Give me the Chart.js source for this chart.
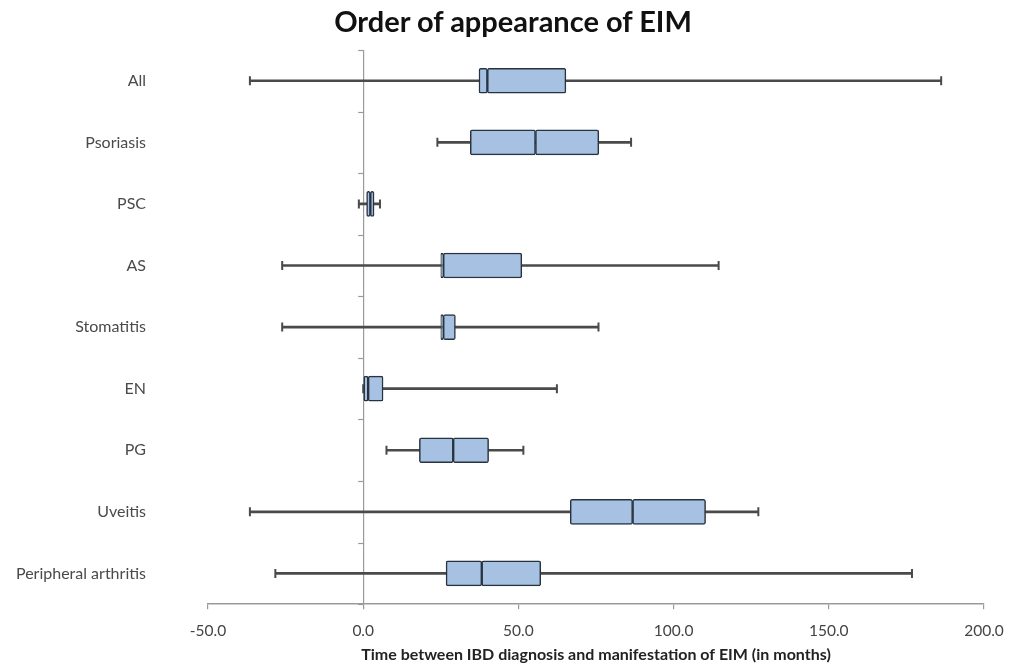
<!DOCTYPE html>
<html>
<head>
<meta charset="utf-8">
<script src="https://cdn.jsdelivr.net/npm/chart.js@4"></script>
<style>
  html, body { margin: 0; padding: 0; background: #fff; }
  #wrap { width: 1010px; height: 666px; position: relative; }
  #title {
    position: absolute; left: 513px; top: 4px; transform: translateX(-50%);
    font-family: Lato, "Open Sans", sans-serif; font-weight: bold; font-size: 29px;
    line-height: 34px; color: #111; white-space: nowrap; z-index: 2;
  }
</style>
</head>
<body>
<div id="wrap">
  <div id="title">Order of appearance of EIM</div>
  <canvas id="c"></canvas>
</div>
<script>
const categories = ['All', 'Psoriasis', 'PSC', 'AS', 'Stomatitis', 'EN', 'PG', 'Uveitis', 'Peripheral arthritis'];
const whiskerMin = [-36.5, 23.9, -1.4, -26.1, -26.1, 0.0, 7.5, -36.5, -28.3];
const q1         = [37.3, 34.5, 1.1, 25.0, 25.0, 0.0, 18.1, 66.7, 26.7];
const median     = [40.0, 55.5, 2.3, 25.8, 25.8, 1.6, 29.0, 86.8, 38.2];
const q3         = [65.3, 75.9, 3.5, 51.1, 29.7, 6.4, 40.4, 110.3, 57.2];
const whiskerMax = [186.2, 86.3, 5.4, 114.5, 75.8, 62.4, 51.6, 127.3, 176.8];
const xTicks     = [-50, 0, 50, 100, 150, 200];

const FONT = 'Lato, "Open Sans", sans-serif';
const BOX_FILL = '#a7c1e3';
const BOX_EDGE = '#27333f';
const WHISKER = '#4a4a4a';

const zeroTicks = {
  id: 'zeroTicks',
  afterDatasetsDraw(chart) {
    const xs = chart.scales.x, ys = chart.scales.y;
    const x0 = xs.getPixelForValue(0);
    const ctx = chart.ctx;
    ctx.save();
    ctx.strokeStyle = '#9a9a9a';
    ctx.lineWidth = 1.2;
    for (let i = 0; i <= categories.length; i++) {
      const y = Math.round(ys.getPixelForValue(i - 0.5)) + 0.5;
      ctx.beginPath();
      ctx.moveTo(x0 - 5, y);
      ctx.lineTo(x0, y);
      ctx.stroke();
    }
    ctx.restore();
  }
};

new Chart(document.getElementById('c'), {
  type: 'bar',
  data: {
    labels: categories,
    datasets: [
      {
        label: 'box upper',
        data: categories.map((c, i) => [median[i], q3[i]]),
        backgroundColor: BOX_FILL,
        borderColor: BOX_EDGE,
        borderWidth: 1.5,
        borderSkipped: false,
        borderRadius: 2,
        barThickness: 25,
        grouped: false,
        order: 0
      },
      {
        label: 'box lower',
        data: categories.map((c, i) => [q1[i], median[i]]),
        backgroundColor: BOX_FILL,
        borderColor: BOX_EDGE,
        borderWidth: 1.5,
        borderSkipped: false,
        borderRadius: 2,
        barThickness: 25,
        grouped: false,
        order: 1
      },
      {
        type: 'line',
        label: 'caps',
        data: categories.flatMap((c, i) => [{x: whiskerMin[i], y: c}, {x: whiskerMax[i], y: c}]),
        showLine: false,
        pointStyle: 'line',
        rotation: 90,
        pointRadius: 4.5,
        pointHoverRadius: 4.5,
        borderColor: WHISKER,
        pointBorderWidth: 2,
        backgroundColor: WHISKER,
        order: 2
      },
      {
        label: 'whisker',
        data: categories.map((c, i) => [whiskerMin[i], whiskerMax[i]]),
        backgroundColor: WHISKER,
        borderWidth: 0,
        barThickness: 2,
        grouped: false,
        order: 3
      }
    ]
  },
  options: {
    indexAxis: 'y',
    responsive: true,
    maintainAspectRatio: false,
    animation: false,
    layout: { autoPadding: false, padding: { left: 0, right: 26, top: 50, bottom: 0 } },
    plugins: {
      legend: { display: false },
      tooltip: { enabled: false },
      title: { display: false }
    },
    scales: {
      x: {
        type: 'linear',
        min: -50,
        max: 200,
        afterBuildTicks(scale) { scale.ticks = xTicks.map(v => ({ value: v })); },
        afterFit(scale) { scale.paddingLeft = 0; scale.paddingRight = 0; },
        ticks: {
          color: '#444',
          font: { family: FONT, size: 15.5 },
          padding: 12.5,
          callback: v => Number(v).toFixed(1)
        },
        grid: {
          color: ctx => (ctx.tick && ctx.tick.value === 0) ? '#9a9a9a' : 'rgba(0,0,0,0)',
          lineWidth: 1.2,
          tickColor: '#9a9a9a',
          tickLength: 5
        },
        border: { display: true, color: '#9a9a9a', width: 1.5 },
        title: {
          display: true,
          text: 'Time between IBD diagnosis and manifestation of EIM (in months)',
          color: '#222',
          font: { family: FONT, size: 16, weight: 'bold' },
          padding: { top: -7.5, bottom: 1.5 }
        }
      },
      y: {
        type: 'category',
        offset: true,
        afterFit(scale) { scale.width = 208; scale.paddingTop = 0; scale.paddingBottom = 0; },
        ticks: {
          color: '#4a4a4a',
          font: { family: FONT, size: 16 },
          padding: 54
        },
        grid: { display: false },
        border: { display: false }
      }
    }
  },
  plugins: [zeroTicks]
});
</script>
</body>
</html>
